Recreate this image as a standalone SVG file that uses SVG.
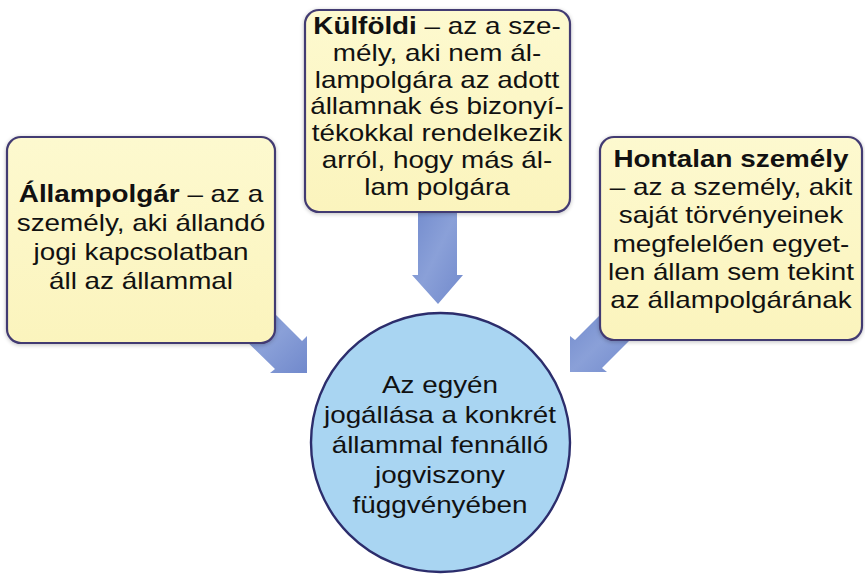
<svg xmlns="http://www.w3.org/2000/svg" width="865" height="574" viewBox="0 0 865 574">
<defs>
  <style>
    .box { fill: url(#boxFill); stroke: #433b72; stroke-width: 2.2; filter: url(#shadow); }
    .circle { fill: #a9d5f2; stroke: #2c2d6c; stroke-width: 2.4; }
    .arrow { fill: url(#arrowFill); stroke: none; }
    .txt { font-family: "Liberation Sans", Arial, sans-serif; font-size: 24px; fill: #111111; text-anchor: middle; }
    .b { font-weight: bold; }
  </style>
  <linearGradient id="boxFill" x1="0" y1="0" x2="0" y2="1">
    <stop offset="0" stop-color="#fdf9cf"/>
    <stop offset="1" stop-color="#fbf4bd"/>
  </linearGradient>
  <linearGradient id="arrowFill" x1="0" y1="0" x2="1" y2="1">
    <stop offset="0" stop-color="#7089cc"/>
    <stop offset="0.5" stop-color="#8aa0d8"/>
    <stop offset="1" stop-color="#7189cc"/>
  </linearGradient>
  <filter id="shadow" x="-5%" y="-5%" width="110%" height="110%">
    <feGaussianBlur in="SourceAlpha" stdDeviation="2"/>
    <feOffset dx="0" dy="1" result="b"/>
    <feComponentTransfer><feFuncA type="linear" slope="0.25"/></feComponentTransfer>
    <feMerge><feMergeNode/><feMergeNode in="SourceGraphic"/></feMerge>
  </filter>
</defs>
<rect width="865" height="574" fill="#ffffff"/>

<g id="connectors">
  <polygon class="arrow" points="418,200 457,200 457,275 463,275 438,304 412,275 418,275"/>
  <polygon class="arrow" points="239,334 267,306 302,341 307,336 307,373 270,373 275,369"/>
  <polygon class="arrow" points="638,332 610,305 575,340 570,336 570,372 607,372 602,368"/>
</g>

<g id="node-allampolgar">
  <rect class="box" x="7" y="137" width="268" height="206" rx="14"/>
  <g transform="translate(141,0) scale(1.16,1)">
    <text class="txt" x="0" y="202"><tspan class="b">Állampolgár</tspan> – az a</text>
    <text class="txt" x="0" y="231">személy, aki állandó</text>
    <text class="txt" x="0" y="260">jogi kapcsolatban</text>
    <text class="txt" x="0" y="289">áll az állammal</text>
  </g>
</g>

<g id="node-kulfoldi">
  <rect class="box" x="305" y="10" width="265" height="202" rx="14"/>
  <g transform="translate(437,0) scale(1.16,1)">
    <text class="txt" x="0" y="34"><tspan class="b">Külföldi</tspan> – az a sze-</text>
    <text class="txt" x="0" y="61">mély, aki nem ál-</text>
    <text class="txt" x="0" y="88">lampolgára az adott</text>
    <text class="txt" x="0" y="114">államnak és bizonyí-</text>
    <text class="txt" x="0" y="141">tékokkal rendelkezik</text>
    <text class="txt" x="0" y="168">arról, hogy más ál-</text>
    <text class="txt" x="0" y="195">lam polgára</text>
  </g>
</g>

<g id="node-hontalan">
  <rect class="box" x="600" y="137" width="262" height="203" rx="14"/>
  <g transform="translate(731,0) scale(1.16,1)">
    <text class="txt" x="0" y="167"><tspan class="b">Hontalan személy</tspan></text>
    <text class="txt" x="0" y="195">– az a személy, akit</text>
    <text class="txt" x="0" y="223">saját törvényeinek</text>
    <text class="txt" x="0" y="252">megfelelően egyet-</text>
    <text class="txt" x="0" y="280">len állam sem tekint</text>
    <text class="txt" x="0" y="308">az állampolgárának</text>
  </g>
</g>

<g id="node-center">
  <circle class="circle" cx="440.5" cy="442.5" r="129.5"/>
  <g transform="translate(440,0) scale(1.16,1)">
    <text class="txt" x="0" y="393">Az egyén</text>
    <text class="txt" x="0" y="423">jogállása a konkrét</text>
    <text class="txt" x="0" y="453">állammal fennálló</text>
    <text class="txt" x="0" y="483">jogviszony</text>
    <text class="txt" x="0" y="513">függvényében</text>
  </g>
</g>
</svg>
